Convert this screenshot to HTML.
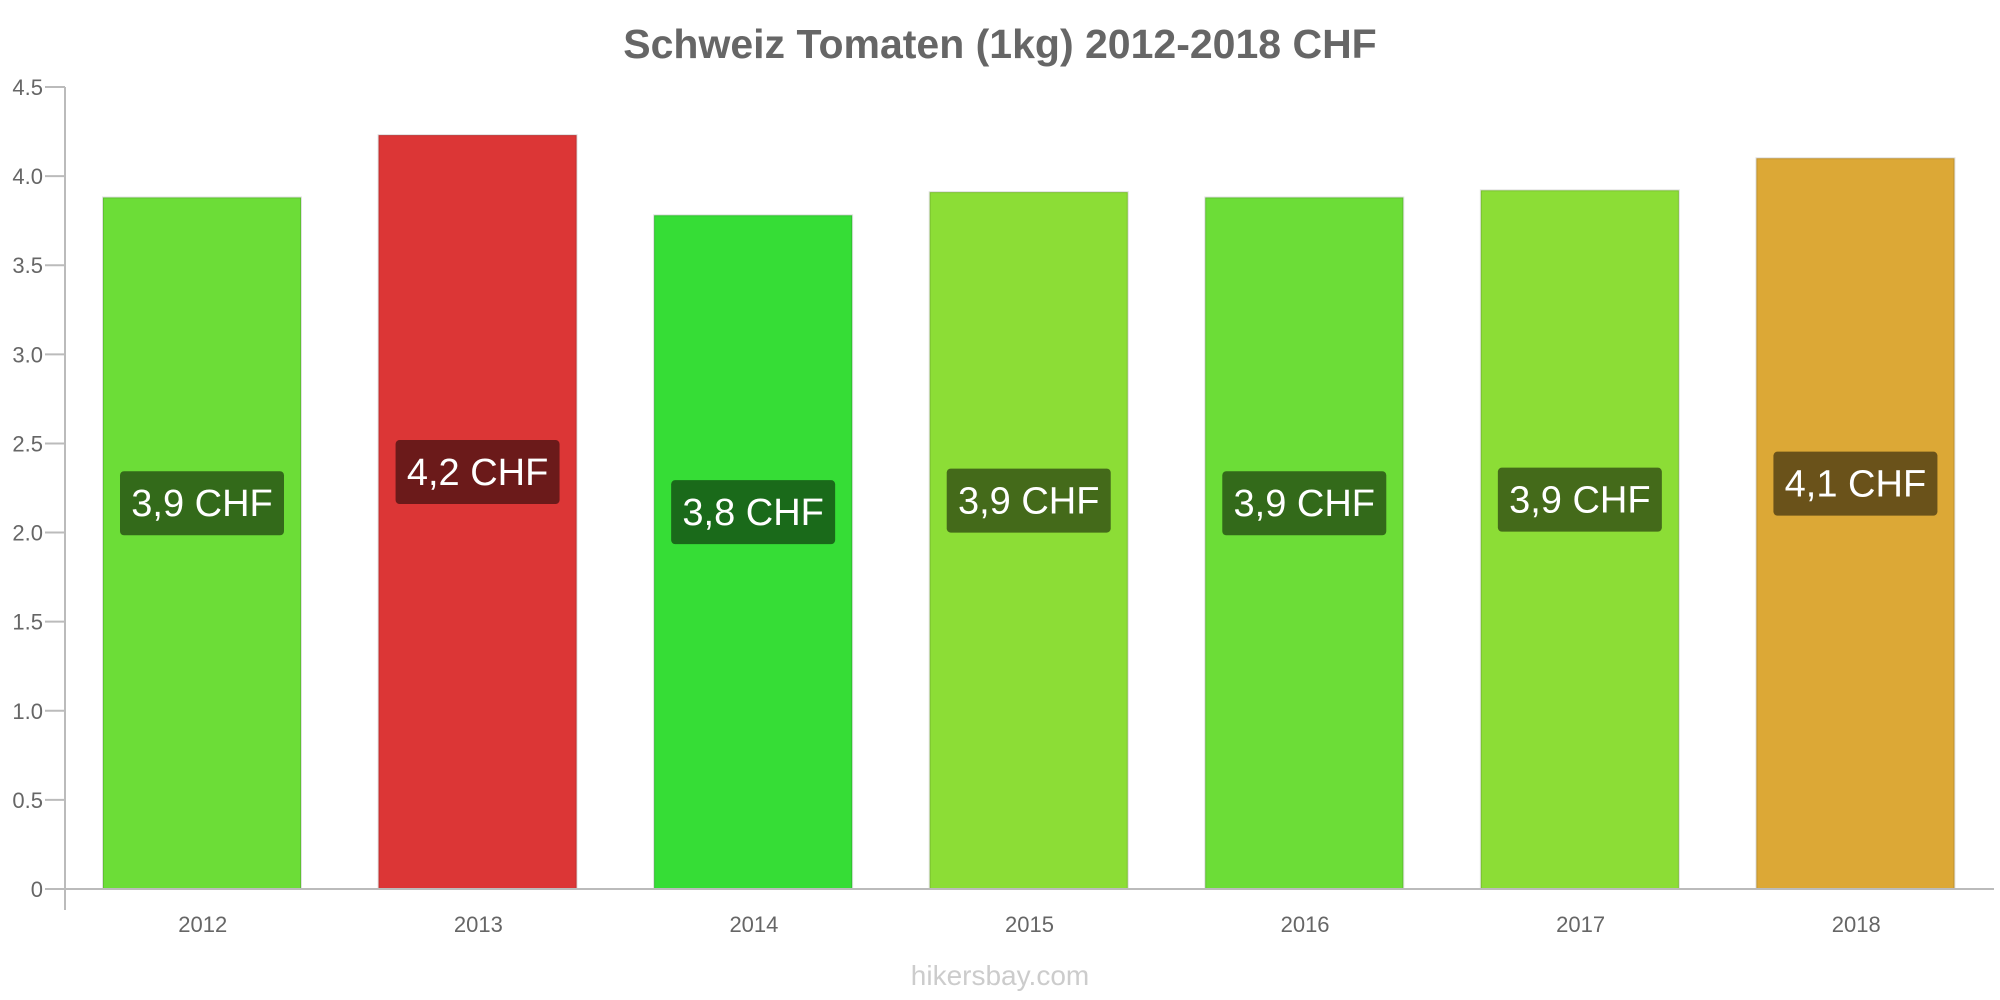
<!DOCTYPE html>
<html><head><meta charset="utf-8"><style>
body{margin:0;background:#fff;}
svg{display:block;font-family:"Liberation Sans",sans-serif;}
</style></head><body>
<svg id="chart" width="2000" height="1000">
<text x="1000" y="58" text-anchor="middle" font-size="41" font-weight="bold" fill="#666">Schweiz Tomaten (1kg) 2012-2018 CHF</text>
<g id="yaxis"></g>
<g id="bars"></g>
<text x="1000" y="985" text-anchor="middle" font-size="28" fill="#ccc">hikersbay.com</text>
</svg>
<script>
const categories=["2012","2013","2014","2015","2016","2017","2018"];
const values=[3.88,4.23,3.78,3.91,3.88,3.92,4.10];
const valueLabels=["3,9 CHF","4,2 CHF","3,8 CHF","3,9 CHF","3,9 CHF","3,9 CHF","4,1 CHF"];
const colors=["#6cdd37","#dc3636","#36dd36","#8cdd36","#6cdd37","#8cdd36","#dca836"];
const labelColors=["#336a1a","#6b1a1a","#1a6a1a","#446a1a","#336a1a","#446a1a","#6a521a"];
const yTicks=[0,0.5,1,1.5,2,2.5,3,3.5,4,4.5];
const yTickLabels=["0","0.5","1.0","1.5","2.0","2.5","3.0","3.5","4.0","4.5"];
const NS="http://www.w3.org/2000/svg";
const x0=65,x1=1994,y0=889,yTop=87,yMax=4.5;
const slot=(x1-x0)/categories.length;
const y=v=>y0-(v/yMax)*(y0-yTop);
const ya=document.getElementById('yaxis'),bg=document.getElementById('bars');
function mk(tag,attrs,parent){const e=document.createElementNS(NS,tag);for(const k in attrs)e.setAttribute(k,attrs[k]);parent.appendChild(e);return e;}
let l=mk('line',{x1:x0,y1:yTop,x2:x0,y2:910,stroke:'#bbb','stroke-width':2},ya);


yTicks.forEach((t,i)=>{
 const tk=mk('line',{x1:45,y1:y(t),x2:x0,y2:y(t),stroke:'#bbb','stroke-width':2},ya);
 
 
 const tx=mk('text',{x:43,y:y(t)+8,'text-anchor':'end','font-size':22,fill:'#666'},ya);
 tx.textContent=yTickLabels[i];
 
 
});
categories.forEach((c,i)=>{
 const bx=x0+i*slot+38,bw=198,top=y(values[i]);
 const r=mk('rect',{x:bx,y:top,width:bw,height:y0-top,fill:colors[i],stroke:'rgba(0,0,0,0.12)','stroke-width':2},bg);
 
 
 const cx=bx+bw/2,cy=(top+y0)/2-40;
 const lb=mk('rect',{x:cx-82,y:cy-32,width:164,height:64,rx:4,fill:labelColors[i]},bg);
 
 
 const lt=mk('text',{x:cx,y:cy+13,'text-anchor':'middle','font-size':38,fill:'#fff'},bg);
 lt.textContent=valueLabels[i];
 
 
 const xt=mk('text',{x:x0+i*slot+slot/2,y:932,'text-anchor':'middle','font-size':22,fill:'#666'},bg);
 xt.textContent=c;
 
 
});
const xl=mk('line',{x1:x0,y1:y0,x2:x1,y2:y0,stroke:'#bbb','stroke-width':2},bg);


</script>
</body></html>
